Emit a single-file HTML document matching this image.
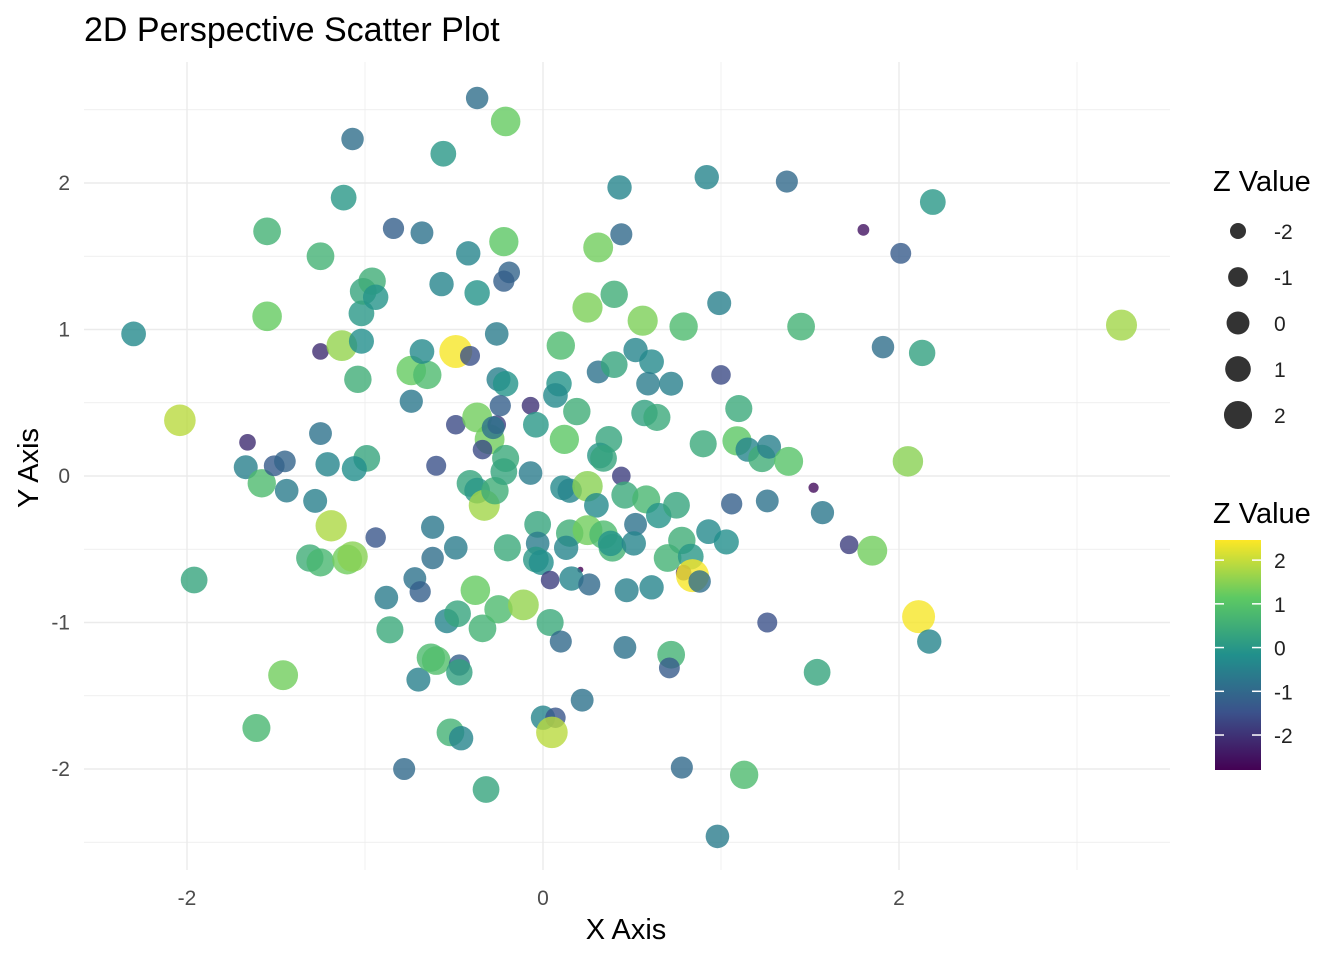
<!DOCTYPE html>
<html><head><meta charset="utf-8"><style>
body{margin:0;background:#fff;font-family:"Liberation Sans",Arial,sans-serif}
</style></head><body>
<svg id="chart" width="1344" height="960" xmlns="http://www.w3.org/2000/svg" font-family="Liberation Sans, Arial, sans-serif">
<defs><linearGradient id="vgrad" x1="0" y1="1" x2="0" y2="0">
<stop offset="0" stop-color="#440154"/><stop offset="0.25" stop-color="#3b528b"/><stop offset="0.5" stop-color="#21908c"/><stop offset="0.75" stop-color="#5dc963"/><stop offset="1" stop-color="#fde725"/></linearGradient></defs>
<g id="grid"></g>
<g id="points"></g>
<g id="axes"></g>
<text x="84" y="41" font-size="34" fill="#000">2D Perspective Scatter Plot</text>
<text x="626" y="939" font-size="29" text-anchor="middle">X Axis</text>
<text transform="translate(38,468) rotate(-90)" font-size="29" text-anchor="middle">Y Axis</text>
<g id="legend">
<text x="1213" y="191" font-size="29">Z Value</text>
<text x="1213" y="523" font-size="29">Z Value</text>
<rect x="1215" y="540" width="46" height="230" fill="url(#vgrad)"/>
</g>
</svg>
<script>
const xs=[-2.30,-2.04,-1.96,-1.66,-1.67,-1.58,-1.55,-1.55,-1.51,-1.45,-1.44,-1.46,-1.61,-1.25,-1.25,-1.25,-1.21,-1.28,-1.19,-1.31,-1.25,-1.12,-1.07,-1.13,-1.02,-1.02,-1.01,-0.96,-0.94,-1.04,-0.99,-1.06,-0.94,-1.10,-1.07,-0.88,-0.86,-0.84,-0.68,-0.74,-0.72,-0.69,-0.74,-0.65,-0.68,-0.78,-0.70,-0.62,-0.62,-0.60,-0.63,-0.60,-0.56,-0.57,-0.49,-0.41,-0.49,-0.49,-0.54,-0.48,-0.47,-0.47,-0.52,-0.46,-0.42,-0.37,-0.37,-0.37,-0.41,-0.37,-0.38,-0.34,-0.32,-0.33,-0.30,-0.34,-0.26,-0.28,-0.27,-0.25,-0.21,-0.22,-0.19,-0.22,-0.26,-0.25,-0.21,-0.24,-0.21,-0.22,-0.20,-0.11,-0.07,-0.07,-0.04,-0.03,-0.03,-0.04,-0.01,0.04,0.04,0.00,0.07,0.05,0.10,0.10,0.09,0.07,0.19,0.12,0.11,0.15,0.15,0.13,0.21,0.16,0.26,0.22,0.25,0.31,0.25,0.31,0.37,0.32,0.34,0.30,0.25,0.34,0.39,0.38,0.43,0.44,0.40,0.40,0.44,0.46,0.52,0.51,0.47,0.46,0.56,0.52,0.61,0.59,0.57,0.64,0.58,0.65,0.61,0.70,0.72,0.72,0.71,0.75,0.78,0.83,0.79,0.84,0.88,0.79,0.78,0.92,0.90,0.93,0.98,0.99,1.00,1.03,1.06,1.10,1.09,1.15,1.23,1.27,1.38,1.26,1.13,1.26,1.37,1.45,1.52,1.57,1.54,1.72,1.85,1.80,1.91,2.01,2.05,2.13,2.11,2.17,2.19,3.25];
const ys=[0.97,0.38,-0.71,0.23,0.06,-0.05,1.67,1.09,0.07,0.10,-0.10,-1.36,-1.72,1.50,0.29,0.85,0.08,-0.17,-0.34,-0.56,-0.59,1.90,2.30,0.89,0.92,1.11,1.26,1.33,1.22,0.66,0.12,0.05,-0.42,-0.57,-0.55,-0.83,-1.05,1.69,1.66,0.51,-0.70,-0.79,0.72,0.69,0.85,-2.00,-1.39,-0.35,-0.56,0.07,-1.24,-1.26,2.20,1.31,0.85,0.82,0.35,-0.49,-0.99,-0.94,-1.29,-1.34,-1.75,-1.79,1.52,2.58,1.25,0.40,-0.05,-0.10,-0.78,-1.04,-2.14,-0.20,0.25,0.18,0.35,0.33,-0.10,-0.91,2.42,1.60,1.39,1.33,0.97,0.66,0.63,0.48,0.12,0.03,-0.49,-0.88,0.48,0.02,0.35,-0.33,-0.46,-0.57,-0.59,-0.71,-1.00,-1.65,-1.65,-1.75,-1.13,0.89,0.63,0.55,0.44,0.25,-0.08,-0.10,-0.39,-0.49,-0.64,-0.70,-0.74,-1.53,1.15,1.56,-0.07,0.71,0.25,0.14,0.12,-0.20,-0.37,-0.40,-0.49,-0.46,1.97,1.65,1.24,0.76,0.00,-0.13,-0.33,-0.46,-0.78,-1.17,1.06,0.86,0.78,0.63,0.43,0.40,-0.16,-0.27,-0.76,-0.56,0.63,-1.22,-1.31,-0.20,-0.44,-0.55,-0.66,-0.68,-0.72,1.02,-1.99,2.04,0.22,-0.38,-2.46,1.18,0.69,-0.45,-0.19,0.46,0.24,0.18,0.12,0.20,0.10,-0.17,-2.04,-1.00,2.01,1.02,-0.08,-0.25,-1.34,-0.47,-0.51,1.68,0.88,1.52,0.10,0.84,-0.96,-1.13,1.87,1.03];
const zs=[-0.3,1.9,0.3,-2.1,-0.5,0.8,0.6,1.2,-1.3,-1.1,-0.6,1.3,0.7,0.6,-0.8,-2.1,-0.4,-0.5,1.8,0.5,0.7,0,-0.9,1.6,-0.2,0,0.3,0.5,-0.1,0.5,0.3,-0.2,-1.4,1.3,1.5,-0.6,0.4,-1.2,-0.8,-0.7,-0.8,-1.2,1.2,0.8,-0.3,-1.0,-0.5,-0.7,-0.9,-1.5,0.8,0.9,0,-0.4,2.4,-1.5,-1.6,-0.6,-0.4,0.3,-1.2,0.2,0.6,-0.4,-0.4,-0.9,-0.1,1.3,0.3,0,1.2,0.6,0.3,1.7,1.3,-1.6,-1.8,-0.8,0.5,0.8,1.2,1.1,-1.1,-1.2,-0.6,-0.5,-0.1,-1.2,0.4,0.3,0.4,1.6,-2.0,-0.6,0,0.3,-0.6,0,-0.2,-1.8,0.4,-0.4,-1.4,1.9,-1.0,0.8,-0.1,-0.3,0.5,1.1,-0.3,-0.4,0.5,-0.4,-2.8,-0.4,-1.0,-0.8,1.4,1.3,1.5,-0.8,0.3,0,0.3,-0.3,1.3,0.8,0.6,-0.1,-0.4,-1.0,0.5,0.3,-1.8,0.4,-0.8,-0.4,-0.5,-0.8,1.4,-0.4,-0.3,-0.6,0.2,0.4,0.7,-0.1,-0.4,0.6,-0.5,0.6,-1.3,0.3,0.5,0,-2.2,2.4,-0.9,0.8,-1.0,-0.4,0.4,-0.3,-0.6,-0.5,-1.6,-0.2,-1.2,0.4,1.1,-0.4,0.5,-0.5,1.0,-0.8,0.8,-1.5,-1.0,0.6,-2.6,-0.7,0.3,-1.8,1.3,-2.5,-0.9,-1.3,1.5,0.2,2.4,-0.4,0,1.7];
const xTicks=[-2,0,2], yTicks=[-2,-1,0,1,2], sizeLegend=[-2,-1,0,1,2], colorTicks=[2,1,0,-1,-2];
const NS="http://www.w3.org/2000/svg";
const sx=v=>543+v*178, sy=v=>476-v*146.5;
const ZMIN=-2.8,ZMAX=2.46;
const rad=z=>Math.sqrt(z>=-2?78+44*(z+2):Math.max(9,9+(z-ZMIN)/0.8*69));
const stops=[[68,1,84],[59,82,139],[33,144,140],[93,201,99],[253,231,37]];
function col(z){let t=Math.min(1,Math.max(0,(z-ZMIN)/(ZMAX-ZMIN)))*4,i=Math.min(3,Math.floor(t)),f=t-i;const a=stops[i],b=stops[i+1];return `rgb(${a.map((v,k)=>Math.round(v+(b[k]-v)*f)).join(',')})`;}
function mk(tag,attrs,parent){const e=document.createElementNS(NS,tag);for(const k in attrs)e.setAttribute(k,attrs[k]);parent.appendChild(e);return e;}
const grid=document.getElementById('grid'),pts=document.getElementById('points'),axes=document.getElementById('axes'),leg=document.getElementById('legend');
for(let v=-3;v<=3;v++){const x=sx(v);if(x<84||x>1170)continue;const l=mk('line',{x1:x,x2:x,y1:62,y2:870,stroke:'#ebebeb','stroke-width':v%2===0?1.4:0.7},grid);

}
for(let v=-2.5;v<=2.5;v+=0.5){const y=sy(v);const l=mk('line',{x1:84,x2:1170,y1:y,y2:y,stroke:'#ebebeb','stroke-width':Number.isInteger(v)?1.4:0.7},grid);

}
xTicks.forEach(v=>{const t=mk('text',{x:sx(v),y:905,'font-size':21,fill:'#4d4d4d','text-anchor':'middle'},axes);t.textContent=v;

});
yTicks.forEach(v=>{const t=mk('text',{x:70,y:sy(v)+7,'font-size':21,fill:'#4d4d4d','text-anchor':'end'},axes);t.textContent=v;

});
xs.forEach((x,i)=>{const c=mk('circle',{cx:sx(x),cy:sy(ys[i]),r:rad(zs[i]),fill:col(zs[i]),'fill-opacity':0.8},pts);

});
sizeLegend.forEach((v,i)=>{const y=231+i*46;const c=mk('circle',{cx:1238,cy:y,r:rad(v)*0.85+0.5,fill:'#333'},leg);


const t=mk('text',{x:1274,y:y+8,'font-size':21,fill:'#222'},leg);t.textContent=v;

});
const cy=z=>770-(z-ZMIN)/(ZMAX-ZMIN)*230;
colorTicks.forEach(v=>{const y=cy(v);mk('line',{x1:1215,x2:1224,y1:y,y2:y,stroke:'#fff','stroke-width':1.5},leg);mk('line',{x1:1252,x2:1261,y1:y,y2:y,stroke:'#fff','stroke-width':1.5},leg);
const t=mk('text',{x:1274,y:y+8,'font-size':21,fill:'#222'},leg);t.textContent=v;

});
</script>
</body></html>
